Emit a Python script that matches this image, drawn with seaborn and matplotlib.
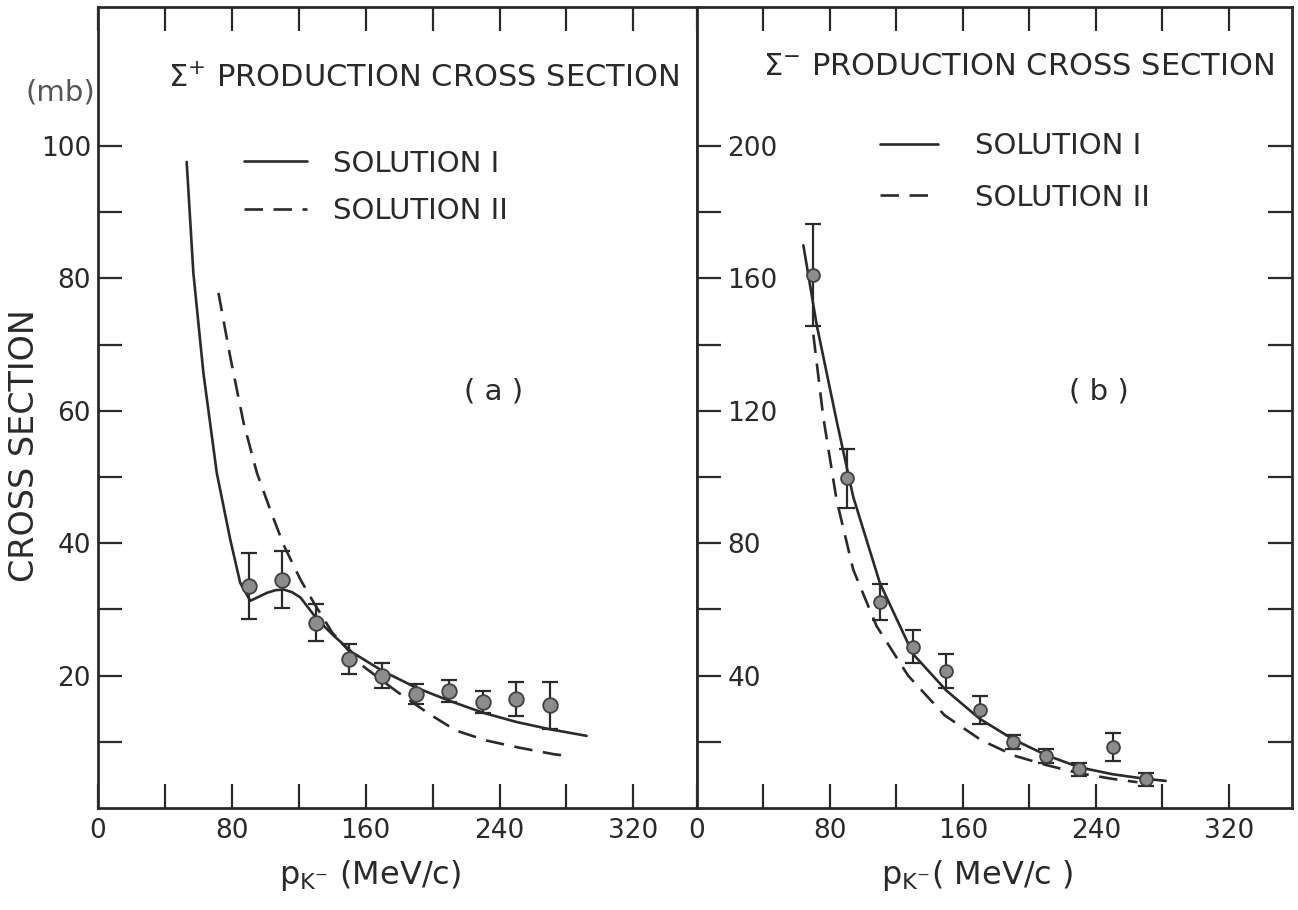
import numpy as np
import pandas as pd
import matplotlib
matplotlib.use("Agg")
import matplotlib.pyplot as plt
import seaborn as sns

# ---------------- data ----------------
# Panel (a): Sigma+ production cross section (mb) vs p_K- (MeV/c)
a_p = [90, 110, 130, 150, 170, 190, 210, 230, 250, 270]
a_sigma = [33.5, 34.5, 28.0, 22.5, 20.0, 17.2, 17.7, 16.0, 16.5, 15.5]
a_err = [5.0, 4.3, 2.8, 2.3, 1.9, 1.5, 1.7, 1.6, 2.6, 3.6]

a_sol1_p = [53, 57, 63, 71, 79, 85, 91, 96, 101, 106, 111, 116, 121, 131, 141,
            152, 170, 190, 210, 230, 250, 270, 292]
a_sol1_s = [97.6, 80.8, 65.7, 50.6, 40.6, 34.0, 31.3, 31.9, 32.5, 32.9, 33.0,
            32.6, 31.8, 28.5, 26.0, 23.5, 20.7, 18.2, 16.2, 14.4, 13.0, 11.9, 10.9]

a_sol2_p = [72, 79, 87, 95, 103, 111, 121, 129, 140, 158, 178, 198, 214, 232,
            252, 273, 280]
a_sol2_s = [77.8, 68.2, 58.2, 50.6, 45.0, 39.7, 34.5, 31.0, 26.5, 21.5, 17.7,
            14.2, 11.7, 10.2, 9.1, 8.1, 7.9]

# Panel (b): Sigma- production cross section
b_p = [70, 90, 110, 130, 150, 170, 190, 210, 230, 250, 270]
b_sigma = [161, 99.6, 62.3, 48.7, 41.4, 29.6, 20.0, 15.7, 11.7, 18.5, 8.7]
b_err = [15.3, 9.0, 5.5, 5.0, 5.0, 4.3, 2.2, 2.0, 2.0, 4.2, 2.0]

b_sol1_p = [64, 72, 84, 94, 110, 130, 150, 170, 190, 210, 230, 250, 270, 282]
b_sol1_s = [170, 146, 117, 94, 68, 46.5, 35.5, 27.0, 20.8, 16.0, 12.3, 10.2, 8.8, 8.2]

b_sol2_p = [70, 76, 84, 94, 108, 127, 149, 171, 191, 210, 230, 250, 265]
b_sol2_s = [143, 118, 93, 72, 55, 40, 28, 20.5, 15.8, 13.0, 10.5, 8.8, 7.8]

x_major = [0, 80, 160, 240, 320]
x_ticks = [0, 40, 80, 120, 160, 200, 240, 280, 320]
a_yticks = [10, 20, 30, 40, 50, 60, 70, 80, 90, 100]
a_ylabels = [20, 40, 60, 80, 100]
b_yticks = [20, 40, 60, 80, 100, 120, 140, 160, 180, 200]
b_ylabels = [40, 80, 120, 160, 200]

# ---------------- style ----------------
sns.set_theme(style="white")
plt.rcParams['font.family'] = ['DejaVu Sans']
plt.rcParams['mathtext.fontset'] = 'dejavusans'
INK = '#2a2a2a'
LW = 1.9
TICK_FS = 19

fig = plt.figure(figsize=(12.98, 9.10), dpi=100)
axA = fig.add_axes([98 / 1298, 102 / 910, 599 / 1298, 801 / 910])
axB = fig.add_axes([697 / 1298, 102 / 910, 595 / 1298, 801 / 910])


def draw(ax, p, s, e, p1, s1, p2, s2, msize):
    d1 = pd.DataFrame({'p': p1, 's': s1})
    d2 = pd.DataFrame({'p': p2, 's': s2})
    dp = pd.DataFrame({'p': p, 's': s, 'e': e})
    sns.lineplot(data=d1, x='p', y='s', ax=ax, color=INK, lw=LW,
                 estimator=None, sort=False, label='SOLUTION I')
    sns.lineplot(data=d2, x='p', y='s', ax=ax, color=INK, lw=LW,
                 estimator=None, sort=False, linestyle=(0, (7, 4)),
                 label='SOLUTION II')
    ax.errorbar(dp['p'], dp['s'], yerr=dp['e'], fmt='none', ecolor=INK,
                elinewidth=1.6, capsize=6, capthick=1.6, zorder=3)
    sns.scatterplot(data=dp, x='p', y='s', ax=ax, s=msize, color='#8c8c8c',
                    edgecolor='#404040', linewidth=1.3, zorder=4, legend=False)
    for sp in ax.spines.values():
        sp.set_visible(True)
        sp.set_color(INK)
        sp.set_linewidth(2.0)
    ax.set_xlim(0, 358)
    ax.set_xticks(x_ticks)
    ax.set_xticklabels([str(v) if v in x_major else '' for v in x_ticks])
    ax.tick_params(axis='x', direction='in', length=17, width=1.6,
                   top=True, bottom=True, colors=INK, labelsize=TICK_FS, pad=7)
    ax.set_ylabel('')
    ax.set_facecolor('white')


draw(axA, a_p, a_sigma, a_err, a_sol1_p, a_sol1_s, a_sol2_p, a_sol2_s, 110)
draw(axB, b_p, b_sigma, b_err, b_sol1_p, b_sol1_s, b_sol2_p, b_sol2_s, 85)

# ---- panel (a) axes ----
axA.set_ylim(0, 121)
axA.set_yticks(a_yticks)
axA.set_yticklabels([str(v) if v in a_ylabels else '' for v in a_yticks])
axA.tick_params(axis='y', direction='in', length=17, width=1.6, left=True,
                right=False, colors=INK, labelsize=TICK_FS, pad=5)
axA.set_ylabel('CROSS SECTION', fontsize=24, color=INK)
axA.yaxis.set_label_coords(-0.122, 0.453)
axA.yaxis.label.set_va('center')
axA.text(-0.063, 0.893, '(mb)', transform=axA.transAxes, ha='center',
         va='center', fontsize=21, color='#555555')
axA.text(0.544, 0.911, r'$\Sigma^{+}$ PRODUCTION CROSS SECTION',
         transform=axA.transAxes, ha='center', va='center', fontsize=22, color=INK)
axA.text(0.66, 0.52, '( a )', transform=axA.transAxes, ha='center',
         va='center', fontsize=21, color=INK)
axA.set_xlabel(r'$\mathrm{p}_{\mathrm{K}^{-}}$ (MeV/c)', fontsize=23, color=INK)
axA.xaxis.set_label_coords((370 - 98) / 599, -0.084)
axA.xaxis.label.set_va('center')
axA.legend(loc='upper left', bbox_to_anchor=(0.2437, 0.822), frameon=False,
           fontsize=21, handlelength=2.15, handletextpad=0.9, labelspacing=0.68,
           borderpad=0, borderaxespad=0, labelcolor=INK)

# ---- panel (b) axes ----
axB.set_ylim(0, 242)
axB.set_yticks(b_yticks)
axB.set_yticklabels([str(v) if v in b_ylabels else '' for v in b_yticks])
axB.tick_params(axis='y', direction='in', length=17, width=1.6, left=True,
                right=True, labelleft=True, labelright=False, colors=INK,
                labelsize=TICK_FS, pad=-22)
for lab in axB.get_yticklabels():
    lab.set_horizontalalignment('left')
axB.text(0.540, 0.926, r'$\Sigma^{-}$ PRODUCTION CROSS SECTION',
         transform=axB.transAxes, ha='center', va='center', fontsize=22, color=INK)
axB.text(0.675, 0.52, '( b )', transform=axB.transAxes, ha='center',
         va='center', fontsize=21, color=INK)
axB.set_xlabel(r'$\mathrm{p}_{\mathrm{K}^{-}}$( MeV/c )', fontsize=23, color=INK)
axB.xaxis.set_label_coords((977 - 697) / 595, -0.084)
axB.xaxis.label.set_va('center')
axB.legend(loc='upper left', bbox_to_anchor=(0.3076, 0.844), frameon=False,
           fontsize=21, handlelength=2.0, handletextpad=1.27, labelspacing=0.81,
           borderpad=0, borderaxespad=0, labelcolor=INK)

fig.savefig('out.png', dpi=100, facecolor='white')
